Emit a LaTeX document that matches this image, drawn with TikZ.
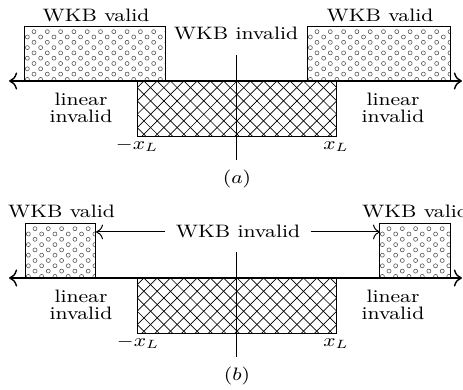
\documentclass[tikz,border=0pt]{standalone}
\usetikzlibrary{arrows,arrows.meta,positioning}

% box of small rings, corners (#1,#2) and (#3,#4)
\newcommand{\validbox}[4]{%
  \begin{scope}
    \clip (#1,#2) rectangle (#3,#4);
    \foreach \j in {0,...,9}{
      \pgfmathsetmacro{\yy}{#2+4.7+5.3*\j}
      \pgfmathsetmacro{\xx}{#1+9-6.65*mod(\j,2)}
      \foreach \i in {0,...,11}
        \draw[ring] (\xx+13.3*\i,\yy) circle (2);
    }
  \end{scope}
  \draw[edge] (#1,#2) rectangle (#3,#4);
}
% cross-hatched box
\newcommand{\linbox}[4]{%
  \begin{scope}
    \clip (#1,#2) rectangle (#3,#4);
    \foreach \k in {-16,...,16}{
      \draw[hatch] (237+13.3*\k,#2) -- ++(70,70);
      \draw[hatch] (237+13.3*\k,#2) -- ++(-70,70);
    }
  \end{scope}
  \draw[edge] (#1,#2) rectangle (#3,#4);
}

\begin{document}
\begin{tikzpicture}[x=0.5pt,y=-0.5pt,>={To[scale=1.3]},
    edge/.style={line width=0.5pt},
    ring/.style={line width=0.3pt,black!65},
    hatch/.style={line width=0.35pt},
    axis/.style={line width=0.7pt,<->},
    lbl/.style={font=\fontsize{9}{8.5}\selectfont,xscale=1.17,inner sep=0pt,anchor=base},
    two/.style={lbl,anchor=center,align=center}]
  \clip (0,0) rectangle (463,390);

  % (a)
  \begin{scope}
    \validbox{25}{27}{166}{81}
    \validbox{308}{27}{451}{81}
    \linbox{138}{81}{337}{137}
    \coordinate (axl) at (9,81);
    \coordinate (axr) at (462,81);
    \draw[axis] (axl) -- (axr);
    \coordinate (vtop) at (237,55);
    \coordinate (vbot) at (237,160);
    \draw[edge] (vtop) -- (vbot);
    \node[lbl] (va) at (96,21.5) {WKB valid};
    \node[lbl] (vb) at (380,21.5) {WKB valid};
    \node[lbl] (inva) at (236,40) {WKB invalid};
    \node[two] (la) at (81,108.3) {linear\\invalid};
    \node[two] (lb) at (393,108.3) {linear\\invalid};
    \node[lbl] (xla) at (137,150) {$-x_L$};
    \node[lbl] (xra) at (336,150) {$x_L$};
    \node[lbl] (capa) at (237,184) {$(a)$};
  \end{scope}

  % (b)
  \begin{scope}[shift={(0,197)}]
    \validbox{26}{27}{96}{81}
    \validbox{380}{27}{451}{81}
    \linbox{138}{81}{337}{137}
    \coordinate (bxl) at (9,81);
    \coordinate (bxr) at (462,81);
    \draw[axis] (bxl) -- (bxr);
    \coordinate (btop) at (237,55);
    \coordinate (bbot) at (237,160);
    \draw[edge] (btop) -- (bbot);
    \coordinate (lbx) at (96,27);
    \coordinate (rbx) at (380,27);
    \node[lbl] (vc) at (61.5,21) {WKB valid};
    \node[lbl] (vd) at (415.5,21) {WKB valid};
    \node[lbl] (invb) at (238,41) {WKB invalid};
    \draw[edge,->,shorten <=5pt] (invb.west) -- (invb.west -| lbx);
    \draw[edge,->,shorten <=5pt] (invb.east) -- (invb.east -| rbx);
    \node[two] (lc) at (81,108.3) {linear\\invalid};
    \node[two] (ld) at (393,108.3) {linear\\invalid};
    \node[lbl] (xlb) at (138,150) {$-x_L$};
    \node[lbl] (xrb) at (336,150) {$x_L$};
    \node[lbl] (capb) at (237,184) {$(b)$};
  \end{scope}
\end{tikzpicture}
\end{document}
